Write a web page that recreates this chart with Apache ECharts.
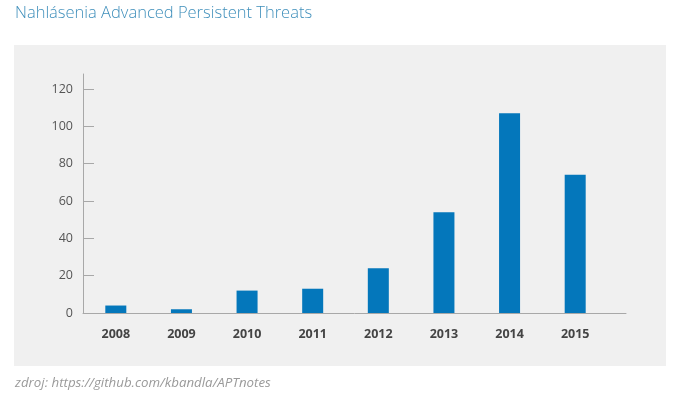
<!DOCTYPE html>
<html><head><meta charset="utf-8">
<script src="https://cdn.jsdelivr.net/npm/echarts@6/dist/echarts.min.js"></script>
<style>html,body{margin:0;padding:0;background:#fff;}#c{width:679px;height:405px;}</style>
</head><body><div id="c"></div>
<script>
const categories = ['2008','2009','2010','2011','2012','2013','2014','2015'];
const values = [4, 2, 12, 13, 24, 54, 107, 74];
const yTicks = [0, 20, 40, 60, 80, 100, 120];
const titleText = 'Nahlásenia Advanced Persistent Threats';
const sourceText = 'zdroj: https://github.com/kbandla/APTnotes';

const font = '"Open Sans", Lato, sans-serif';
const chart = echarts.init(document.getElementById('c'), null, {renderer:'canvas'});
chart.setOption({
  animation: false,
  backgroundColor: '#ffffff',
  graphic: [
    {type:'rect', z:-10, shape:{x:14,y:45,width:652,height:321}, style:{fill:'#f0f0f0'}},
    {type:'text', left:15, top:5, style:{text:titleText, fill:'#3f8fbb', font:'300 16.5px ' + font}},
    {type:'text', left:15, top:377, style:{text:sourceText, fill:'#9a9a9a', font:'italic 13.3px ' + font}}
  ],
  grid: [
    {left:83, right:53, top:74, bottom:92},
    {left:83, right:71, top:74, bottom:92}
  ],
  xAxis: [
    {
      gridIndex:0, type:'value', min:0, max:1,
      axisLine:{show:true, lineStyle:{color:'#a8a8a8', width:1}},
      axisTick:{show:false}, axisLabel:{show:false}, splitLine:{show:false}
    },
    {
      gridIndex:1, type:'category', data: categories,
      axisLine:{show:false},
      axisTick:{show:false},
      axisLabel:{color:'#444', fontWeight:'bold', fontSize:12.5, fontFamily:font, margin:15}
    }
  ],
  yAxis: [
    {
      gridIndex:0, type:'value', min:0, max:128, interval:20,
      splitLine:{show:false},
      axisLine:{show:true, lineStyle:{color:'#a8a8a8', width:1}},
      axisTick:{show:true, inside:true, length:11, customValues: yTicks, lineStyle:{color:'#a8a8a8'}},
      axisLabel:{color:'#555', fontSize:12.5, fontFamily:font, margin:10, customValues: yTicks}
    },
    {
      gridIndex:1, type:'value', min:0, max:128, interval:20, show:false
    }
  ],
  series: [{
    type:'bar', xAxisIndex:1, yAxisIndex:1, data: values, barWidth:21,
    itemStyle:{color:'#0477bb'}
  }]
});
</script></body></html>
